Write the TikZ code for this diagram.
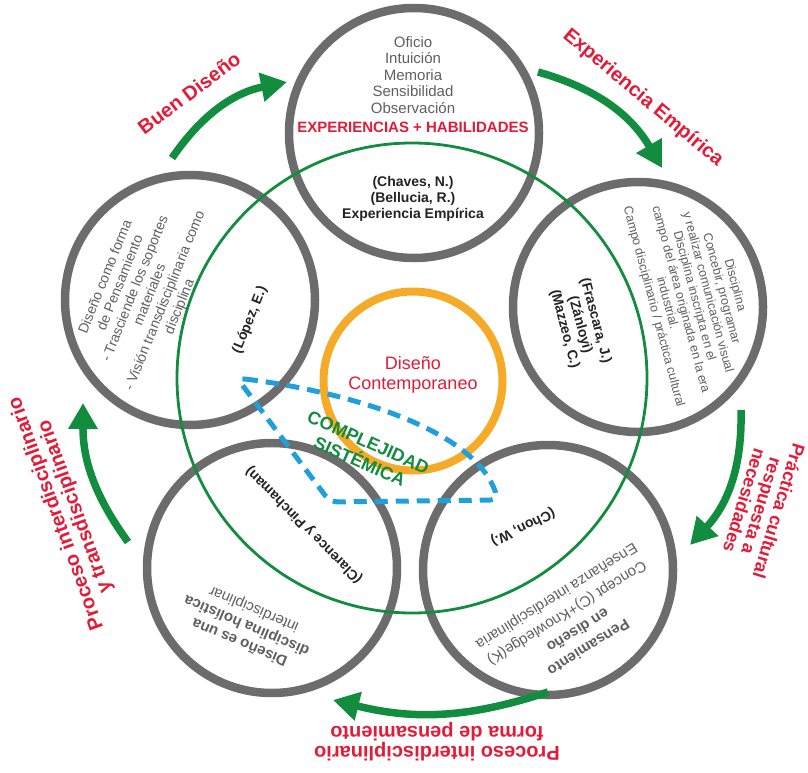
\documentclass[tikz,border=0pt]{standalone}
\usepackage{fontspec}
\setmainfont{Liberation Sans}
\usetikzlibrary{arrows.meta,positioning}
\definecolor{ringgray}{RGB}{108,108,108}
\definecolor{txtgray}{RGB}{95,95,95}
\definecolor{namegray}{RGB}{35,35,35}
\definecolor{flowgreen}{RGB}{18,140,62}
\definecolor{labelred}{RGB}{226,28,56}
\definecolor{coreorange}{RGB}{245,170,40}
\definecolor{dashblue}{RGB}{32,160,218}
\tikzset{
  ring/.style={circle, draw=ringgray, line width=8.5pt, minimum size=250pt, inner sep=0pt},
  body/.style={text=txtgray, align=center, inner sep=0pt, font=\fontsize{15}{16.5}\selectfont},
  cite/.style={text=namegray, align=center, inner sep=0pt, font=\bfseries\fontsize{14}{16}\selectfont},
  flow/.style={draw=flowgreen, line width=7.5pt, -{Triangle[length=26pt,width=28pt]}},
  flowlabel/.style={text=labelred, align=center, inner sep=0pt, font=\bfseries\fontsize{20}{20}\selectfont},
}
\begin{document}
\begin{tikzpicture}[x=1pt,y=-1pt]
  \useasboundingbox (0,0) rectangle (808,773);
  % the five rings
  \foreach \name/\cx/\cy in {ringOficio/414/133, ringDisciplina/638/307, ringForma/190/300,
                             ringHolistica/272/568, ringPensamiento/548/570}
    \node[ring] (\name) at (\cx,\cy) {};

  % system circle and core
  \node[circle, draw=flowgreen, line width=2.8pt, minimum size=470pt, inner sep=0pt] (sistema) at (412,378) {};
  \node[circle, draw=coreorange, line width=8pt, minimum size=179pt, inner sep=0pt] (nucleo) at (413,381) {};
  \node[text=labelred, align=center, font=\fontsize{18}{20}\selectfont] (contemp) at (413,375) {Diseño\\Contemporaneo};

  \draw[dashblue, line width=5pt, dash pattern=on 13pt off 8pt, rounded corners=8pt]
    (237,378) .. controls (350,392) and (475,430) .. (498,500) -- (330,502) -- cycle;
  \node[text=flowgreen, align=center, rotate=-24, font=\bfseries\fontsize{18}{21}\selectfont] (complejidad) at (364,452) {COMPLEJIDAD\\SISTÉMICA};

  % texts inside the rings
  \node[body] (oficioTxt) at (413,75) {Oficio\\Intuición\\Memoria\\Sensibilidad\\Observación};
  \node[text=labelred, inner sep=0pt, font=\bfseries\fontsize{15}{16}\selectfont] (habilidades) at (413,127) {EXPERIENCIAS + HABILIDADES};
  \node[cite] (chaves) at (413,199) {(Chaves, N.)\\(Bellucia, R.)\\Experiencia Empírica};

  \node[body, rotate=-75, font=\fontsize{12.5}{14}\selectfont] (disciplinaTxt) at (694,296) {Disciplina\\Concebir, programar\\y realizar comunicación visual\\Disciplina inscripta en el\\campo del área originada en la era\\industrial.\\Campo disciplinario / práctica cultural};
  \node[cite, rotate=-75] (frascara) at (580,325) {(Frascara, J.)\\(Zánloyi)\\(Mazzeo, C.)};

  \node[body, rotate=68, font=\fontsize{14}{16}\selectfont] (formaTxt) at (143,292) {Diseño como forma\\de Pensamiento\\- Trasciende los soportes\\materiales\\- Visión transdisciplinaria como\\disciplina};
  \node[cite, rotate=68] (lopez) at (250,320) {(López, E.)};

  \node[body, rotate=157, font=\fontsize{15}{18}\selectfont] (holisticaTxt) at (247,625) {\textbf{Diseño es una}\\\textbf{disciplina holística}\\interdisciplinar};
  \node[cite, rotate=135] (clarence) at (304,525) {(Clarence y Pinchaman)};

  \node[body, rotate=212, font=\fontsize{15}{20}\selectfont] (pensamientoTxt) at (572,621) {\textbf{Pensamiento}\\\textbf{en diseño}\\Concept (C)+Knowledge(K)\\Enseñanza interdisciplinaria};
  \node[cite, rotate=206] (chon) at (523,527) {(Chon, W.)};

  % flow between the rings
  \coordinate (buenA) at (172,158);   \coordinate (buenB) at (287,82);
  \coordinate (empA) at (538,72);     \coordinate (empB) at (662,168);
  \coordinate (pracA) at (741,410);   \coordinate (pracB) at (690,545);
  \coordinate (formaA) at (548,692);  \coordinate (formaB) at (333,700);
  \coordinate (transA) at (128,542);  \coordinate (transB) at (83,403);
  \draw[flow] (buenA) to[bend left=22] (buenB);
  \draw[flow] (empA) to[bend left=22] (empB);
  \draw[flow] (pracA) to[bend left=22] (pracB);
  \draw[flow] (formaA) to[bend left=16] (formaB);
  \draw[flow] (transA) to[bend left=18] (transB);

  \node[flowlabel, rotate=37] (buen) at (189,93) {Buen Diseño};
  \node[flowlabel, rotate=-40] (empirica) at (643,98) {Experiencia Empírica};
  \node[flowlabel, rotate=-107, font=\bfseries\fontsize{18}{18}\selectfont] (practica) at (762,506) {Práctica cultural\\respuesta a\\necesidades};
  \node[flowlabel, rotate=180] (forma) at (437,742) {Proceso interdisciplinario\\forma de pensamiento};
  \node[flowlabel, rotate=110] (transdisc) at (66,510) {Proceso interdisciplinario\\y transdisciplinario};
\end{tikzpicture}
\end{document}
